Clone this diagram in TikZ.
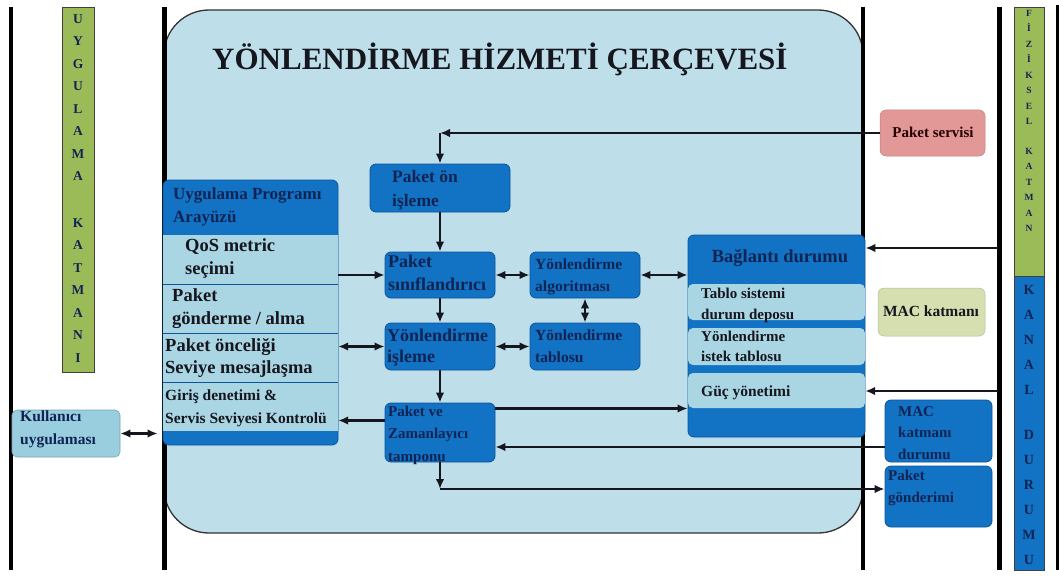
\documentclass[tikz,border=0pt]{standalone}
\usepackage{fontspec}
\setmainfont{Liberation Serif}
\usetikzlibrary{arrows.meta,fit}
\definecolor{framefill}{RGB}{190,223,233}
\definecolor{dkblue}{RGB}{18,114,196}
\definecolor{dkedge}{RGB}{10,85,155}
\definecolor{band}{RGB}{170,214,228}
\definecolor{navy}{RGB}{16,36,84}
\definecolor{ink}{RGB}{22,22,30}
\definecolor{olive}{RGB}{155,187,89}
\definecolor{paleolive}{RGB}{214,223,176}
\definecolor{salmon}{RGB}{226,152,150}
\definecolor{userbox}{RGB}{152,206,221}
\begin{document}
\begin{tikzpicture}[x=1pt,y=-1pt,
  fnt/.style 2 args={font=\fontsize{#1}{#2}\selectfont\bfseries},
  boxd/.style={fill=dkblue, draw=dkedge, line width=0.8pt, rounded corners=6pt, inner sep=0pt},
  bandbox/.style={fill=band, draw=none, inner sep=0pt},
  bandr/.style={bandbox, rounded corners=5pt},
  colbox/.style={draw=black!75, line width=1pt, inner sep=0pt},
  % multi-line labels are placed by the baseline of their last line
  tx/.style={inner sep=0pt, anchor=base west, align=left, text=ink},
  txn/.style={tx, text=navy},
  letters/.style={inner sep=0pt, anchor=north, align=center, text=navy},
  vline/.style={line width=4.5pt, draw=black},
  con/.style={draw=ink, line width=2.1pt},
  arr/.style={con, -{Latex[length=10pt,width=8.5pt]}},
  darr/.style={con, {Latex[length=10pt,width=8.5pt]}-{Latex[length=10pt,width=8.5pt]}},
  sepl/.style={draw=dkedge, line width=1pt}
]
\useasboundingbox (0,0) rectangle (1059,575);
\fill[white] (0,0) rectangle (1059,575);

% service frame
\draw[line width=1.3pt, draw=black!80, fill=framefill, rounded corners=45pt]
  (164,10) rectangle (863,533);

% layer boundaries
\draw[vline] (11,7) -- (11,570);
\draw[vline] (164.5,7) -- (164.5,570);
\draw[vline] (863,7) -- (863,570);
\draw[vline] (999.5,7) -- (999.5,570);
\draw[line width=3pt] (1057,5) -- (1057,570);

% title
\node[inner sep=0pt, anchor=base west, fnt={31}{31}, text=ink] (title) at (212,70)
  {YÖNLENDİRME HİZMETİ ÇERÇEVESİ};

% application layer column
\node[colbox, fill=olive, fit={(62,8) (94,372)}] (uygkat) {};
\node[letters, fnt={13.5}{22.5}] (uygt) at (78,14)
  {U\\Y\\G\\U\\L\\A\\M\\A\\[24pt]K\\A\\T\\M\\A\\N\\I};

% user application
\node[fill=userbox, draw=userbox!80!black, line width=0.6pt, rounded corners=5pt,
  inner sep=0pt, fit={(12,410) (120,457)}] (kullanici) {};
\node[txn, fnt={15.5}{23}] (kullanicit) at (20,444) {Kullanıcı\\uygulaması};

% application programming interface
\node[boxd, fit={(163,180) (338,445)}] (api) {};
\node[bandbox, fit={(163,235) (338,284)}] (qos) {};
\node[bandbox, fit={(163,285) (338,333)}] (gonderme) {};
\node[bandbox, fit={(163,334) (338,382)}] (oncelik) {};
\node[bandbox, fit={(163,383) (338,431)}] (giris) {};
\draw[sepl] (qos.south west) -- (qos.south east);
\draw[sepl] (gonderme.south west) -- (gonderme.south east);
\draw[sepl] (oncelik.south west) -- (oncelik.south east);
\node[txn, fnt={17}{23}] (apit) at (173,222) {Uygulama Programı\\Arayüzü};
\node[tx, fnt={18.5}{23}] (qost) at (185,274) {QoS metric\\seçimi};
\node[tx, fnt={18.5}{23}] (gondermet) at (172,324) {Paket\\gönderme / alma};
\node[tx, fnt={18.5}{22}] (oncelikt) at (165,373) {Paket önceliği\\Seviye mesajlaşma};
\node[tx, fnt={15.5}{23}] (girist) at (165,423) {Giriş denetimi \&\\Servis Seviyesi Kontrolü};

% central processing blocks
\node[boxd, fit={(370,164) (510,212)}] (onisleme) {};
\node[txn, fnt={17.5}{24}] (onislemet) at (392,206) {Paket ön\\işleme};
\node[boxd, fit={(385,252) (495,298)}] (sinif) {};
\node[txn, fnt={18}{23}] (siniftt) at (388,290) {Paket\\sınıflandırıcı};
\node[boxd, fit={(385,323) (495,370)}] (isleme) {};
\node[txn, fnt={18}{21}] (islemet) at (387,362) {Yönlendirme\\işleme};
\node[boxd, fit={(530,252) (640,298)}] (algo) {};
\node[txn, fnt={15.5}{22}] (algot) at (535,291) {Yönlendirme\\algoritması};
\node[boxd, fit={(530,323) (640,370)}] (tablo) {};
\node[txn, fnt={15.5}{22}] (tablot) at (535,362) {Yönlendirme\\tablosu};
\node[boxd, fit={(385,403) (495,462)}] (pvz) {};
\node[txn, fnt={15}{22.5}] (pvzt) at (388,461) {Paket ve\\Zamanlayıcı\\tamponu};

% link state block
\node[boxd, fit={(688,235) (865,437)}] (baglanti) {};
\node[bandr, fit={(688,284) (865,320)}] (depo) {};
\node[bandr, fit={(688,328) (865,365)}] (istek) {};
\node[bandr, fit={(688,373) (865,408)}] (guc) {};
\node[inner sep=0pt, anchor=base, fnt={18.5}{22}, text=navy] (baglantit) at (780,262) {Bağlantı durumu};
\node[tx, fnt={15}{21}] (depot) at (701,319) {Tablo sistemi\\durum deposu};
\node[tx, fnt={15}{20}] (istekt) at (701,361) {Yönlendirme\\istek tablosu};
\node[tx, fnt={15.5}{20}] (guct) at (701,396) {Güç yönetimi};

% MAC side
\node[fill=salmon, draw=salmon!85!black, line width=0.5pt, rounded corners=6pt,
  inner sep=0pt, fit={(880,110) (985,156)}] (servisi) {};
\node[inner sep=0pt, anchor=base, fnt={15}{18}, text=black!85!red] (servisit) at (933,137) {Paket servisi};
\node[fill=paleolive, draw=paleolive!85!black, line width=0.5pt, rounded corners=6pt,
  inner sep=0pt, fit={(878,288) (985,336)}] (mac) {};
\node[inner sep=0pt, anchor=base, fnt={15.5}{18}, text=ink] (mact) at (931,316) {MAC katmanı};
\node[boxd, fit={(885,400) (992,462)}] (macdurum) {};
\node[txn, fnt={15}{21.5}] (macdurumt) at (898,459) {MAC\\katmanı\\durumu};
\node[boxd, fit={(885,466) (992,527)}] (gonderim) {};
\node[txn, fnt={15}{22}] (gonderimt) at (888,502) {Paket\\gönderimi};

% physical layer / channel state column
\node[colbox, fill=olive, fit={(1014,8) (1044,276)}] (fizkat) {};
\node[letters, fnt={9.5}{15.5}] (fizt) at (1029,10)
  {F\\İ\\Z\\İ\\K\\S\\E\\L\\[14pt]K\\A\\T\\M\\A\\N};
\node[colbox, fill=dkblue, fit={(1014,276) (1044,570)}] (kanal) {};
\node[letters, fnt={14}{25}] (kanalt) at (1029,285)
  {K\\A\\N\\A\\L\\[20pt]D\\U\\R\\U\\M\\U};

% connectors
\coordinate (c1) at (440,133);
\draw[arr] (servisi.west) -- (c1);
\draw[arr] (c1) -- (onisleme.north);
\draw[arr] (onisleme.south) -- (sinif.north);
\draw[arr] (sinif.south) -- (isleme.north);
\draw[arr] (isleme.south) -- (pvz.north);
\draw[arr] (qos.east |- sinif.west) -- (sinif.west);
\draw[darr] (oncelik.east |- isleme.west) -- (isleme.west);
\coordinate (pvzL) at ([yshift=12pt]pvz.west);
\draw[arr] (pvzL) -- (pvzL -| giris.east);
\draw[darr] (sinif.east) -- (algo.west);
\draw[darr] (isleme.east) -- (tablo.west);
\draw[darr] (algo.south) -- (tablo.north);
\draw[darr] (algo.east) -- (algo.east -| baglanti.west);
\coordinate (pvzR) at ([yshift=24pt]pvz.east);
\draw[arr, line width=2.8pt] (pvzR) -- (pvzR -| baglanti.west);
\coordinate (mdL) at ([yshift=-16pt]macdurum.west);
\draw[arr] (mdL) -- (mdL -| pvz.east);
\coordinate (c2) at (440,489);
\draw[arr] (pvz.south) -- (c2);
\draw[arr] (c2) -- (c2 -| gonderim.west);
\draw[darr, shorten >=5pt] (kullanici.east) -- (kullanici.east -| api.west);
\coordinate (k1) at (998,248);
\draw[arr] (k1) -- (k1 -| baglanti.east);
\coordinate (k2) at (998,391);
\draw[arr] (k2) -- (k2 -| guc.east);
\end{tikzpicture}
\end{document}
